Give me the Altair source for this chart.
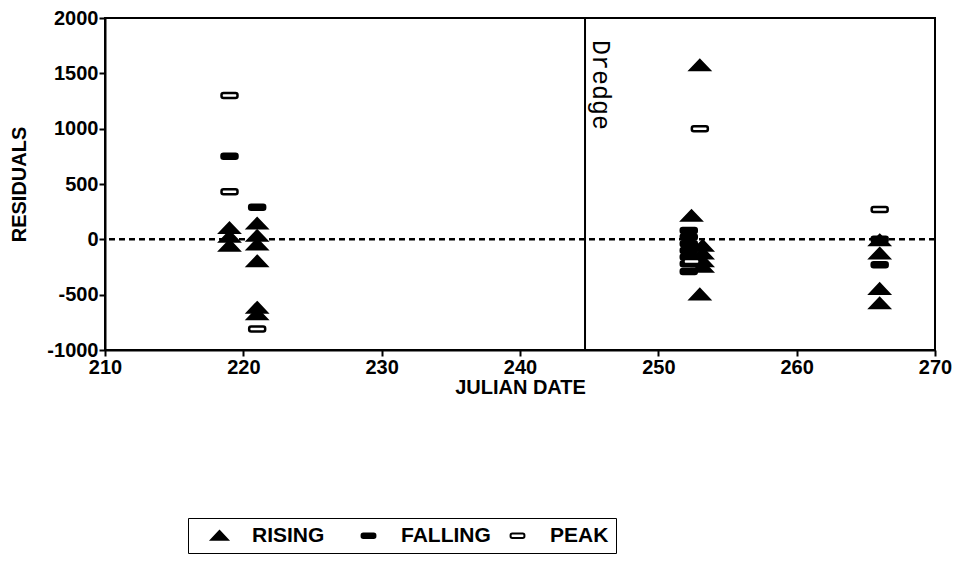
import altair as alt
import pandas as pd

# ---- data ----
rising_day = [219, 219, 219, 221, 221, 221, 221, 221, 221, 252.4, 253, 253.2, 253.2, 253.2, 253.2, 253, 266, 266, 266, 266]
rising_res = [100, 20, -60, 140, 30, -50, -200, -620, -680, 210, 1570, -60, -130, -200, -250, -500, -10, -130, -450, -580]

falling_day = [219, 221, 252.2, 252.2, 252.2, 252.2, 252.2, 252.2, 252.2, 266, 266]
falling_res = [750, 290, 80, 20, -40, -100, -160, -220, -290, 0, -230]

peak_day = [219, 219, 221, 253, 252.4, 266]
peak_res = [1300, 430, -810, 1000, -200, 270]

types = ["RISING", "FALLING", "PEAK"]
dredge_day = [244.7]
zero_line = [0]
x_ticks = [210, 220, 230, 240, 250, 260, 270]
y_ticks = [-1000, -500, 0, 500, 1000, 1500, 2000]

rows = []
for d, r in zip(rising_day, rising_res):
    rows.append({"day": d, "res": r, "type": "RISING"})
for d, r in zip(falling_day, falling_res):
    rows.append({"day": d, "res": r, "type": "FALLING"})
for d, r in zip(peak_day, peak_res):
    rows.append({"day": d, "res": r, "type": "PEAK"})
df = pd.DataFrame(rows)

FONT = "Liberation Sans"

tri = "M0,-0.55L0.95,0.45L-0.95,0.45Z"
a, b, r = 0.8, 0.25, 0.2
rrect = (f"M{-a+r},{-b}L{a-r},{-b}Q{a},{-b} {a},{-b+r}L{a},{b-r}Q{a},{b} {a-r},{b}"
         f"L{-a+r},{b}Q{-a},{b} {-a},{b-r}L{-a},{-b+r}Q{-a},{-b} {-a+r},{-b}Z")

xscale = alt.Scale(domain=[210, 270], nice=False, zero=False)
yscale = alt.Scale(domain=[-1000, 2000], nice=False, zero=False)

legend = alt.Legend(
    title=" ", titleOrient="left", titleFontSize=1, titlePadding=14,
    orient="none", legendX=83, legendY=500, direction="horizontal",
    strokeColor="black", padding=7, labelFont=FONT, labelFontSize=21,
    labelFontWeight="bold", labelColor="black", symbolSize=300,
    symbolStrokeColor="black", symbolStrokeWidth=2, labelOffset=22,
    columnPadding=15, gridAlign="all",
)

points = alt.Chart(df).mark_point(
    filled=True, size=400, stroke="black", strokeWidth=2.5, opacity=1
).encode(
    x=alt.X("day:Q", scale=xscale,
            axis=alt.Axis(values=x_ticks, title="JULIAN DATE", titlePadding=0,
                          labelFlush=False, labelExpr="'' + datum.value")),
    y=alt.Y("res:Q", scale=yscale,
            axis=alt.Axis(values=y_ticks, title="RESIDUALS", titlePadding=17,
                          labelExpr="'' + datum.value")),
    shape=alt.Shape("type:N", scale=alt.Scale(domain=types, range=[tri, rrect, rrect]), legend=legend),
    fill=alt.Fill("type:N", scale=alt.Scale(domain=types, range=["black", "black", "white"]), legend=legend),
    stroke=alt.Stroke("type:N", scale=alt.Scale(domain=types, range=["black", "black", "black"]), legend=legend),
)

zero = alt.Chart(pd.DataFrame({"y": zero_line})).mark_rule(
    color="black", strokeWidth=2.5, strokeDash=[6, 4]
).encode(y=alt.Y("y:Q", scale=yscale))

dredge = alt.Chart(pd.DataFrame({"x": dredge_day})).mark_rule(
    color="black", strokeWidth=2
).encode(x=alt.X("x:Q", scale=xscale))

dredge_text = alt.Chart(pd.DataFrame({"x": dredge_day, "y": [2000], "t": ["Dredge"]})).mark_text(
    angle=90, align="left", baseline="bottom", dx=22, dy=-3,
    font="Liberation Mono", fontSize=25, color="black"
).encode(x=alt.X("x:Q", scale=xscale), y=alt.Y("y:Q", scale=yscale), text="t:N")

chart = alt.layer(zero, dredge, dredge_text, points).properties(
    width=830, height=332,
    autosize=alt.AutoSizeParams(type="none"),
    padding={"left": 97, "top": 10, "right": 18, "bottom": 204},
).configure_view(
    stroke="black", strokeWidth=2
).configure_axis(
    grid=False, domainColor="black", domainWidth=2, tickColor="black", tickWidth=2,
    tickSize=6, labelFont=FONT, labelFontSize=20, labelFontWeight="bold", labelColor="black",
    titleFont=FONT, titleFontSize=20, titleFontWeight="bold", titleColor="black",
    labelPadding=1,
)

chart.save("out.html", embed_options={"renderer": "svg", "actions": False})
